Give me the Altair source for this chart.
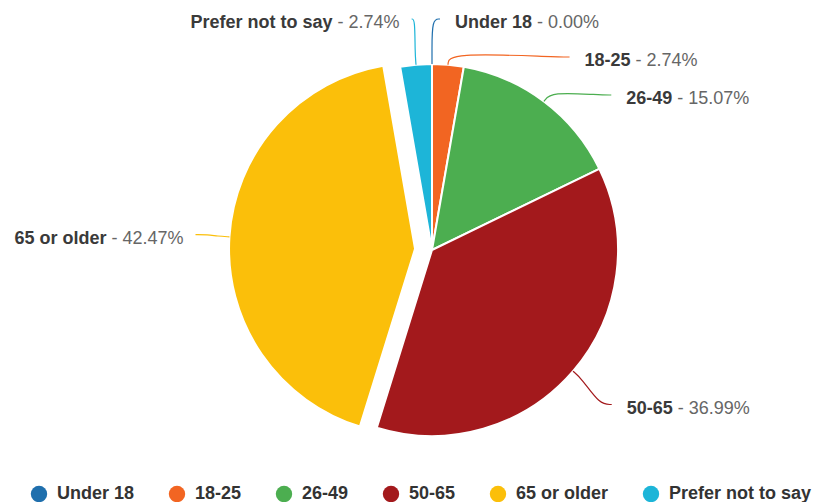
import math
import altair as alt
import pandas as pd

# ---- data ----
categories = ["Under 18", "18-25", "26-49", "50-65", "65 or older", "Prefer not to say"]
percents = [0.00, 2.74, 15.07, 36.99, 42.47, 2.74]
colors = ["#1f6fad", "#f26522", "#4cae50", "#a3191c", "#fbbf0a", "#1db5d8"]
exploded = ["65 or older"]

# ---- layout ----
W, H = 807, 494
CX, CY = 424, 242      # pie centre inside the plot area (pixels from top-left)
R = 186                # pie radius
RL = 237               # radius where connectors end
TOP = 231              # highest connector end
EXPLODE = 17
FONT = 18
GAP = 38

BOLD = {'U': 722, 'n': 611, 'd': 611, 'e': 556, 'r': 389, ' ': 278, '-': 333, 'o': 611,
        'l': 278, 'P': 667, 'f': 333, 't': 333, 's': 556, 'a': 556, 'y': 556}
REG = {' ': 278, '-': 333, '.': 278, '%': 889}


def width(s, table):
    return sum(table.get(c, 556) for c in s) * FONT / 1000.0


total = sum(percents)
starts, ends, mids = [], [], []
acc = 0.0
for p in percents:
    starts.append(acc)
    acc += p
    ends.append(acc)
for s, e in zip(starts, ends):
    mids.append((s + e) / 2 / total * 2 * math.pi)

# natural label anchor positions, then push apart on each side
lab = []
for i, c in enumerate(categories):
    m = mids[i]
    side = 1 if math.sin(m) >= -1e-9 else -1
    ny = max(min(RL * math.cos(m), TOP), -TOP)
    nx = RL * math.sin(m)
    if abs(nx) < 10:
        nx += side * 8
    lab.append({"i": i, "side": side, "y": ny, "x": nx})
for side in (1, -1):
    group = sorted([d for d in lab if d["side"] == side], key=lambda d: -d["y"])
    prev = None
    for d in group:
        if prev is not None and d["y"] > prev - GAP:
            d["y"] = prev - GAP
            d["x"] = side * math.sqrt(max(RL ** 2 - d["y"] ** 2, 0))
        prev = d["y"]
lab.sort(key=lambda d: d["i"])

pie_rows, line_rows, text_rows = [], [], []
for i, c in enumerate(categories):
    m = mids[i]
    ox = EXPLODE * math.sin(m) if c in exploded else 0.0
    oy = EXPLODE * math.cos(m) if c in exploded else 0.0
    pie_rows.append({"category": c, "start": starts[i], "end": ends[i], "cx": ox, "cy": oy})
    d = lab[i]
    side = d["side"]
    p0 = (ox + R * math.sin(m), oy + R * math.cos(m))
    p1 = (ox + (R + 12) * math.sin(m), oy + (R + 12) * math.cos(m))
    p3 = (d["x"], d["y"])
    p2x = p3[0] - side * 12
    if side * (p2x - p1[0]) < 0:
        p2x = p1[0]
    p2 = (p2x, p3[1])
    for k, (px, py) in enumerate([p0, p1, p2, p3]):
        line_rows.append({"category": c, "step": k, "lx": px, "ly": py})
    pct = "- %.2f%%" % percents[i]
    ty = d["y"] - 4
    sp = width(" ", REG)
    if side > 0:
        nx = d["x"] + 15
        px_ = nx + width(c, BOLD) + sp
    else:
        px_ = d["x"] - 12
        nx = px_ - width(pct, REG) - sp
    text_rows.append({"category": c, "name": c, "pct": pct, "nx": nx, "px": px_,
                      "ty": ty, "side": side})

pie = pd.DataFrame(pie_rows)
lines = pd.DataFrame(line_rows)
texts = pd.DataFrame(text_rows)

xs = alt.Scale(domain=[-CX, W - CX], nice=False, zero=False)
ys = alt.Scale(domain=[-(H - CY), CY], nice=False, zero=False)
color_scale = alt.Scale(domain=categories, range=colors)

arcs = alt.Chart(pie).mark_arc(outerRadius=R, stroke="white", strokeWidth=2).encode(
    x=alt.X("cx:Q", scale=xs, axis=None),
    y=alt.Y("cy:Q", scale=ys, axis=None),
    theta=alt.Theta("start:Q", scale=alt.Scale(domain=[0, total], range=[0, 2 * math.pi])),
    theta2="end:Q",
    color=alt.Color("category:N", scale=color_scale, sort=categories,
                    legend=alt.Legend(orient="none", legendX=22, legendY=477,
                                      direction="horizontal", columns=6,
                                      symbolType="circle", symbolSize=270,
                                      symbolStrokeWidth=0, symbolOpacity=1,
                                      labelFontSize=18, labelFont="Liberation Sans",
                                      labelFontWeight="bold", labelColor="#333333",
                                      labelLimit=400,
                                      columnPadding=33, labelOffset=9, padding=0,
                                      title=None)),
)

leaders = alt.Chart(lines).mark_line(strokeWidth=1.2, interpolate="basis").encode(
    x=alt.X("lx:Q", scale=xs, axis=None),
    y=alt.Y("ly:Q", scale=ys, axis=None),
    stroke=alt.Stroke("category:N", scale=color_scale, legend=None),
    order="step:Q",
)

base_t = alt.Chart(texts)
name_r = base_t.transform_filter("datum.side > 0").mark_text(
    align="left", baseline="middle", font="Liberation Sans", fontSize=FONT,
    fontWeight="bold", color="#3a3a3a").encode(
    x=alt.X("nx:Q", scale=xs, axis=None), y=alt.Y("ty:Q", scale=ys, axis=None), text="name:N")
pct_r = base_t.transform_filter("datum.side > 0").mark_text(
    align="left", baseline="middle", font="Liberation Sans", fontSize=FONT,
    color="#666666").encode(
    x=alt.X("px:Q", scale=xs, axis=None), y=alt.Y("ty:Q", scale=ys, axis=None), text="pct:N")
name_l = base_t.transform_filter("datum.side < 0").mark_text(
    align="right", baseline="middle", font="Liberation Sans", fontSize=FONT,
    fontWeight="bold", color="#3a3a3a").encode(
    x=alt.X("nx:Q", scale=xs, axis=None), y=alt.Y("ty:Q", scale=ys, axis=None), text="name:N")
pct_l = base_t.transform_filter("datum.side < 0").mark_text(
    align="right", baseline="middle", font="Liberation Sans", fontSize=FONT,
    color="#666666").encode(
    x=alt.X("px:Q", scale=xs, axis=None), y=alt.Y("ty:Q", scale=ys, axis=None), text="pct:N")

chart = alt.layer(arcs, leaders, name_r, pct_r, name_l, pct_l).properties(
    width=W, height=H, padding=0, autosize=alt.AutoSizeParams(type="none"),
    background="white",
).configure_view(stroke=None)

chart.save("out.html", embed_options={"renderer": "svg", "actions": False})
